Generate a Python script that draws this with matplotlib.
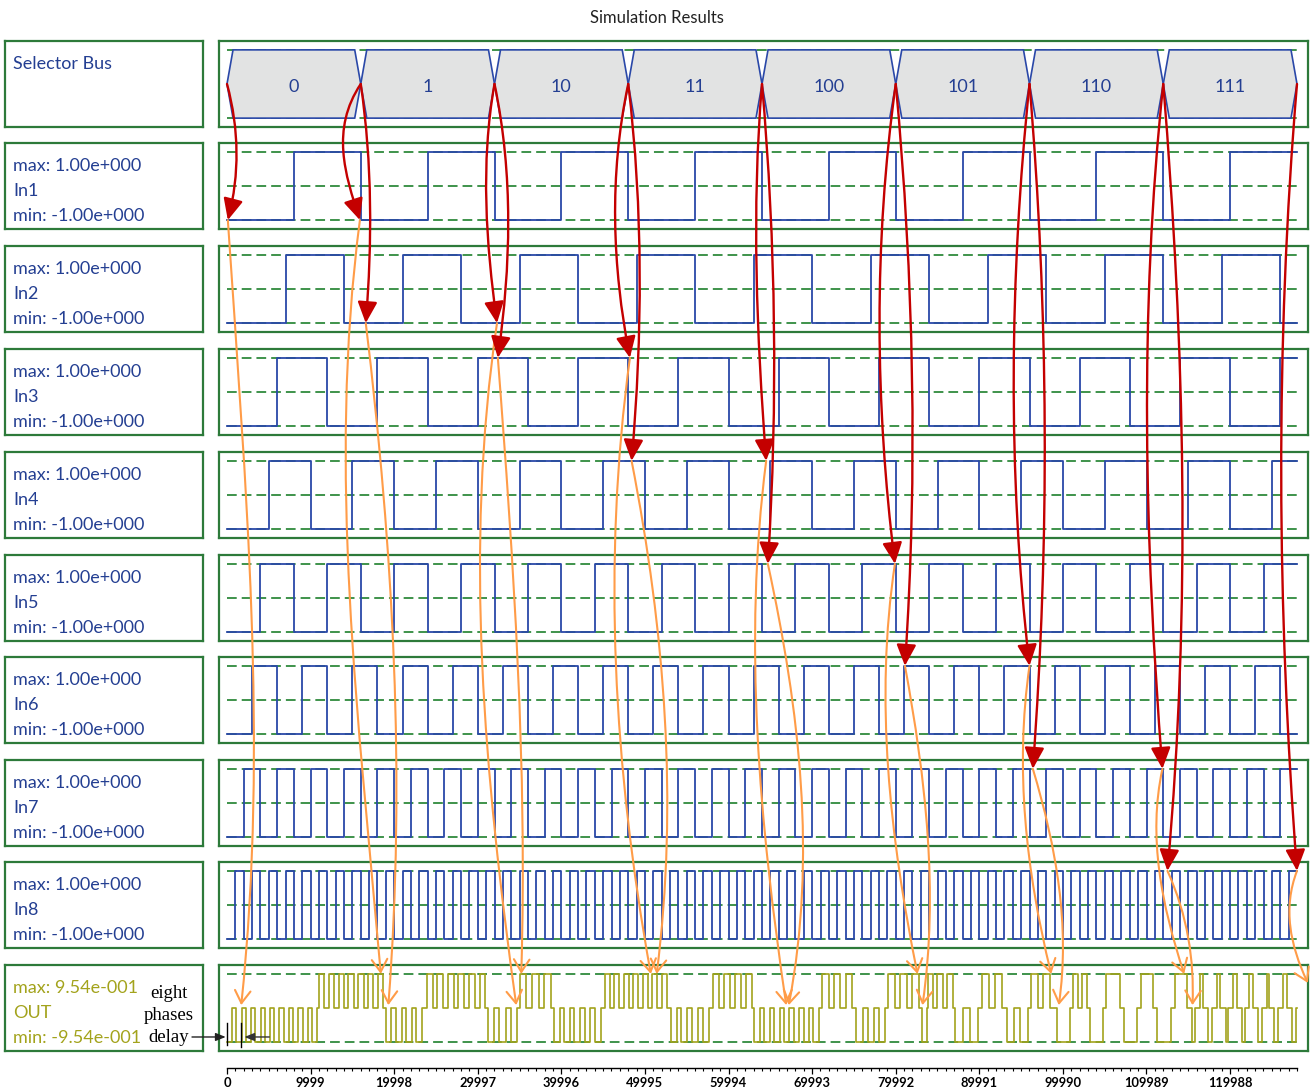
import matplotlib
matplotlib.use('Agg')
import matplotlib.pyplot as plt
import numpy as np
from matplotlib.path import Path
from matplotlib.patches import FancyArrowPatch, Polygon

plt.rcParams['font.family'] = ['Lato', 'DejaVu Sans']
plt.rcParams['lines.scale_dashes'] = False

W, H = 1311, 1091
T_END = 128000

# selector bus
sel_labels = ['0', '1', '10', '11', '100', '101', '110', '111']
sel_period = 16000

# inputs: square waves, start low, given half periods
in_names = ['In1', 'In2', 'In3', 'In4', 'In5', 'In6', 'In7', 'In8']
in_max, in_min = 1.0, -1.0
half_periods = [8000, 7000, 6000, 5000, 4000, 3000, 2000, 1000]

# output bursts (start, end, sign)
out_max, out_min = 0.954, -0.954
out_start = [0, 11000, 19000, 23900, 31200, 35000, 39100, 45200, 53100, 58100,
             63100, 71200, 75300, 79100, 83100, 83800, 87100, 90300, 93300, 96200,
             99300, 101200, 103200, 105200, 107300, 109300, 111300, 113400, 115400, 116400,
             117300, 118400, 119500, 120300, 121400, 122300, 123300, 124400, 125300, 126300,
             127400]
out_end = [10800, 18700, 23300, 30900, 34700, 38800, 44700, 52600, 57600, 62800,
           70800, 74800, 78700, 82800, 83700, 86800, 89800, 92700, 95800, 98400,
           100800, 102900, 104800, 106800, 108800, 110800, 112900, 114800, 115800, 116700,
           117800, 118800, 119800, 120800, 121800, 122700, 123800, 124700, 125700, 126800,
           127900]
out_sign = [-1, 1] * 20 + [-1]
out_pitch = 1100

tick_step = 9999
n_major = 13

# red arrows: selector edge -> input
red_src = [0, 1, 1, 2, 2, 3, 3, 4, 4, 5, 5, 6, 6, 7, 7, 8]
red_row = [1, 1, 2, 2, 3, 3, 4, 4, 5, 5, 6, 6, 7, 7, 8, 8]
red_t = [100, 15900, 16600, 32300, 32400, 48200, 48400, 64500,
         64700, 79900, 81100, 96000, 96400, 111900, 112500, 128000]
red_lvl = [-1, -1, -1, -1, 1, 1, 1, 1, 1, 1, 1, 1, 1, 1, 1, 1]
# orange arrows: input -> OUT
orange_t = [1700, 18400, 19300, 34600, 35200, 50700, 51400, 66900,
            67200, 82600, 83200, 98600, 99500, 114500, 115500, 129300]
orange_lvl = [0.08, 0.954, 0.08, 0.08, 0.954, 0.954, 0.954, 0.08,
              0.08, 0.954, 0.08, 0.954, 0.08, 0.954, 0.08, 0.7]

red_bend = [(12, 12), (-30, -15), (10, 8), (-15, -10), (18, 14), (-20, -17), (14, 12), (-12, -8),
            (12, 12), (-22, -20), (15, 16), (-20, -22), (18, 18), (-24, -18), (20, 25), (-22, -20)]
orange_bend = [(13, 32), (-40, -15), (20, 25), (-40, -25), (8, 14), (-35, -30), (25, 30), (-30, -20),
               (25, 35), (-28, -20), (15, 22), (-22, -18), (15, 20), (-22, -15), (12, 10), (-18, -14)]

GREEN = '#2d7a3a'
DASH = '#2f8a3d'
BLUE = '#2a48a8'
LBLUE = '#243f92'
OLIVE = '#a3a31c'
RED = '#c40000'
ORANGE = '#ff9c48'

row_tops = [41, 143, 246, 349, 452, 555, 657, 760, 862, 965]
row_h = 86

fig = plt.figure(figsize=(W / 100, H / 100), dpi=100)


def px_axes(x0, y0, w, h):
    return fig.add_axes([x0 / W, 1 - (y0 + h) / H, w / W, h / H])


def box_style(ax):
    ax.set_xticks([])
    ax.set_yticks([])
    for s in ax.spines.values():
        s.set_color(GREEN)
        s.set_linewidth(1.6)


px_per_t = 1070 / T_END
xlim = (-8 / px_per_t, T_END + 11 / px_per_t)

fig.text(657 / W, 1 - 18 / H, 'Simulation Results', ha='center', va='center',
         fontsize=12, color='#222222')

# left label boxes
for i, top in enumerate(row_tops):
    axl = px_axes(5, top, 198, row_h)
    box_style(axl)
    axl.set_xlim(0, 1)
    axl.set_ylim(0, 1)
    if i == 0:
        axl.text(0.04, 1 - 23 / row_h, 'Selector Bus', color=LBLUE, fontsize=13, va='center')
        continue
    if i == 9:
        lines = ['max: 9.54e-001', 'OUT', 'min: -9.54e-001']
        col = OLIVE
    else:
        lines = ['max: 1.00e+000', in_names[i - 1], 'min: -1.00e+000']
        col = LBLUE
    for ln, yy in zip(lines, [23, 48, 73]):
        axl.text(0.04, 1 - yy / row_h, ln, color=col, fontsize=13, va='center')

# selector bus
ax_sel = px_axes(219, row_tops[0], 1089, row_h)
box_style(ax_sel)
ax_sel.set_xlim(*xlim)
ax_sel.set_ylim(-1.26, 1.26)
for lv in (-1, 1):
    ax_sel.plot([0, T_END], [lv, lv], color=DASH, lw=1.3, dashes=(7, 3.6), zorder=1)
d = 720
for k, lab in enumerate(sel_labels):
    a, b = k * sel_period, (k + 1) * sel_period
    hexa = Polygon([(a, 0), (a + d, 1), (b - d, 1), (b, 0), (b - d, -1), (a + d, -1)],
                   closed=True, facecolor='#e2e3e3', edgecolor=BLUE, lw=1.2, zorder=2)
    ax_sel.add_patch(hexa)
    ax_sel.text((a + b) / 2, -0.1, lab, ha='center', va='center', color=LBLUE, fontsize=13, zorder=3)

# inputs
ax_in = []
for i, hp in enumerate(half_periods):
    ax = px_axes(219, row_tops[i + 1], 1089, row_h)
    box_style(ax)
    ax.set_xlim(*xlim)
    ax.set_ylim(-1.26, 1.26)
    for lv in (-1, 0, 1):
        ax.plot([0, T_END], [lv, lv], color=DASH, lw=1.3, dashes=(7, 3.6), zorder=1)
    t = np.append(np.arange(0, T_END, hp), T_END)
    v = np.where(np.arange(len(t)) % 2 == 0, in_min, in_max)
    v[-1] = v[-2]
    ax.step(t, v, where='post', color=BLUE, lw=1.3, zorder=2)
    ax_in.append(ax)

# output
ax_out = px_axes(219, row_tops[9], 1089, row_h)
box_style(ax_out)
ax_out.set_xlim(*xlim)
ax_out.set_ylim(-1.26 * out_max, 1.26 * out_max)
for lv in (out_min, out_max):
    ax_out.plot([0, T_END], [lv, lv], color=DASH, lw=1.3, dashes=(7, 3.6), zorder=1)
ot, ov = [], []
for s, e, sg in zip(out_start, out_end, out_sign):
    n = max(1, int(round((e - s) / out_pitch)))
    pitch = (e - s) / (n - 0.45)
    for k in range(n):
        t0 = s + k * pitch
        ot += [t0, t0 + 0.55 * pitch]
        ov += [sg * out_max, 0.0]
if ot[0] > 0:
    ot.insert(0, 0)
    ov.insert(0, 0.0)
ot.append(T_END)
ov.append(0.0)
ax_out.step(ot, ov, where='post', color=OLIVE, lw=1.2, zorder=2)

# time axis
ax_t = px_axes(219, 1067, 1089, 1)
ax_t.set_xlim(*xlim)
ax_t.set_yticks([])
for side in ('top', 'left', 'right'):
    ax_t.spines[side].set_visible(False)
ax_t.spines['bottom'].set_bounds(0, T_END)
ax_t.spines['bottom'].set_linewidth(1.0)
ax_t.patch.set_alpha(0)
majors = [k * tick_step for k in range(n_major)]
ax_t.set_xticks(majors)
ax_t.set_xticklabels([str(m) for m in majors])
ax_t.set_xticks(np.arange(0, T_END + 1, tick_step / 10), minor=True)
ax_t.tick_params(axis='x', which='major', length=4.5, width=0.9, labelsize=9.3, pad=2)
ax_t.tick_params(axis='x', which='minor', length=2.5, width=0.8)
for lab in ax_t.get_xticklabels():
    lab.set_fontweight('bold')

inv = fig.transFigure.inverted()


def curve_arrow(p0, p3, bend, color, style, lw):
    (x0, y0), (x3, y3) = p0, p3
    p1 = (x0 + (x3 - x0) / 3 + bend[0], y0 + (y3 - y0) / 3)
    p2 = (x0 + 2 * (x3 - x0) / 3 + bend[1], y0 + 2 * (y3 - y0) / 3)
    verts = inv.transform([p0, p1, p2, p3])
    path = Path(verts, [Path.MOVETO, Path.CURVE4, Path.CURVE4, Path.CURVE4])
    arr = FancyArrowPatch(path=path, arrowstyle=style, color=color, lw=lw,
                          mutation_scale=20, transform=fig.transFigure, zorder=5)
    fig.add_artist(arr)


red_tips = []
for src, row, t, lv in zip(red_src, red_row, red_t, red_lvl):
    p0 = ax_sel.transData.transform((src * sel_period, 0))
    p3 = ax_in[row - 1].transData.transform((t, lv))
    red_tips.append((p0, p3))

for (p0, p3), t, lv, bd in zip(red_tips, orange_t, orange_lvl, orange_bend):
    q3 = ax_out.transData.transform((t, lv))
    curve_arrow(p3, q3, bd, ORANGE, '->,head_length=0.45,head_width=0.28', 1.5)

for (p0, p3), bd in zip(red_tips, red_bend):
    curve_arrow(p0, p3, bd, RED, '-|>,head_length=0.65,head_width=0.3', 1.7)

# eight phases delay annotation
for word, yy in zip(['eight', 'phases', 'delay'], [993, 1015, 1037]):
    fig.text(169 / W, 1 - yy / H, word, ha='center', va='center', fontsize=13.5,
             family=['Liberation Serif', 'DejaVu Serif'], color='black')
ax_out.plot([0, 0], [-0.42, -1.04], color='black', lw=1.0, zorder=4)
ax_out.plot([1700, 1700], [-0.42, -1.10], color='black', lw=1.0, zorder=4)
ax_out.annotate('', xy=(1750, -0.81), xytext=(5400, -0.81),
                arrowprops=dict(arrowstyle='-|>,head_length=0.5,head_width=0.2',
                                color='#333333', lw=1.0, mutation_scale=12), zorder=4)
a0 = fig.transFigure.transform((192 / W, 1 - 1037 / H))
a1 = ax_out.transData.transform((-150, -0.81))
fig.add_artist(FancyArrowPatch(posA=inv.transform(a0), posB=inv.transform(a1),
                               arrowstyle='-|>,head_length=0.5,head_width=0.2',
                               color='#222222', lw=1.0, mutation_scale=12,
                               shrinkA=0, shrinkB=0, transform=fig.transFigure))

fig.savefig('out.png', dpi=100, facecolor='white')
